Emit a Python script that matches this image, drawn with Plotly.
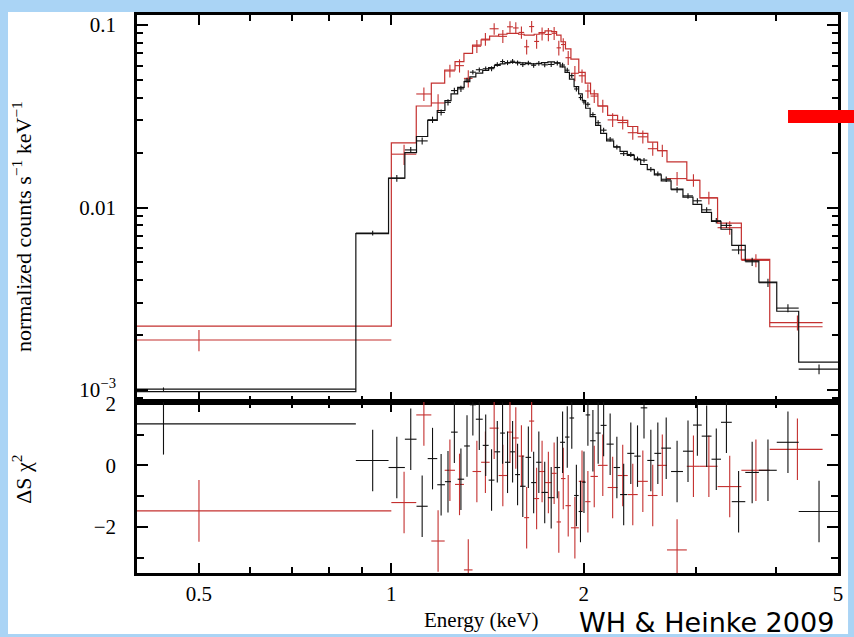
import plotly.graph_objects as go

# ---------------- data (energies in keV) ----------------
BLACK_EDGES = [0.0, 0.88, 0.99, 1.05, 1.095, 1.14, 1.18, 1.213, 1.24, 1.27, 1.30, 1.327,
               1.356, 1.39, 1.42, 1.45, 1.48, 1.506, 1.534, 1.562, 1.59, 1.622, 1.655,
               1.685, 1.718, 1.758, 1.80, 1.837, 1.87, 1.90, 1.932, 1.964, 1.99, 2.014,
               2.047, 2.088, 2.126, 2.172, 2.228, 2.28, 2.34, 2.40, 2.456, 2.515, 2.58,
               2.645, 2.74, 2.86, 2.965, 3.06, 3.17, 3.28, 3.41, 3.58, 3.76, 4.01, 4.34, 5.0]
BLACK_MODEL = [0.00098, 0.0072, 0.0145, 0.0200, 0.0245, 0.0300, 0.0340, 0.0385, 0.0420, 0.0455,
               0.0490, 0.0520, 0.0545, 0.0565, 0.0585, 0.0600, 0.0612, 0.0620, 0.0625, 0.0625,
               0.0620, 0.0615, 0.0612, 0.0615, 0.0622, 0.0628, 0.0620, 0.0590, 0.0550, 0.0505,
               0.0460, 0.0420, 0.0385, 0.0350, 0.0315, 0.0282, 0.0255, 0.0232, 0.0215, 0.0203,
               0.0193, 0.0183, 0.0172, 0.0161, 0.0151, 0.0140, 0.0126, 0.0114, 0.0104, 0.0094,
               0.0084, 0.0076, 0.0062, 0.0051, 0.0039, 0.0027, 0.00142]
BLACK_DATA = [0.00101, 0.00724, 0.01446, 0.02068, 0.02317, 0.03026, 0.03318, 0.0377, 0.04373,
              0.04469, 0.04995, 0.05515, 0.0569, 0.0576, 0.05764, 0.06079, 0.06309, 0.06219,
              0.06334, 0.06193, 0.06071, 0.06197, 0.06019, 0.06168, 0.06053, 0.0608, 0.06187,
              0.06035, 0.05656, 0.05281, 0.04463, 0.04005, 0.03784, 0.0368, 0.0323, 0.02915,
              0.02654, 0.02368, 0.02145, 0.01973, 0.01953, 0.01847, 0.01817, 0.01618, 0.01528,
              0.01428, 0.01251, 0.01158, 0.01088, 0.00971, 0.00846, 0.00798, 0.00585, 0.00504,
              0.00387, 0.00281, 0.0013]
BLACK_ERR = [0.000022, 0.00022, 0.0006, 0.0008, 0.001, 0.0012, 0.0013, 0.0015, 0.0016, 0.0018,
             0.0015, 0.0016, 0.0016, 0.0017, 0.0018, 0.0018, 0.0018, 0.0019, 0.0019, 0.0019,
             0.0019, 0.0018, 0.0018, 0.0018, 0.0019, 0.0019, 0.0019, 0.0018, 0.0017, 0.0015,
             0.0014, 0.0013, 0.0012, 0.0011, 0.0010, 0.0009, 0.0008, 0.0007, 0.00065, 0.0006,
             0.0006, 0.00055, 0.00052, 0.0005, 0.00045, 0.0005, 0.00045, 0.0004, 0.00037,
             0.00033, 0.0003, 0.00027, 0.0003, 0.00026, 0.0002, 0.00014, 0.00008]
BLACK_RESID = [1.35, 0.16, -0.07, 0.85, -1.33, 0.22, -0.63, -0.53, 1.08, -0.45, 0.63, 1.97,
               1.5, 0.65, -0.48, 0.44, 1.05, 0.1, 0.44, -0.3, -0.68, 0.26, -0.56, 0.1, -0.88,
               -1.05, -0.07, 0.75, 0.92, 1.54, -0.98, -1.5, -0.55, 1.64, 0.8, 1.05, 1.3, 0.69,
               -0.07, -0.95, 0.39, 0.3, 1.87, 0.16, 0.39, 0.56, -0.2, 0.46, 1.31, 0.95, 0.2,
               1.4, -1.18, -0.23, -0.16, 0.75, -1.5]

RED_EDGES = [0.0, 1.0, 1.094, 1.155, 1.212, 1.258, 1.299, 1.34, 1.382, 1.425, 1.472, 1.517,
             1.55, 1.582, 1.614, 1.643, 1.673, 1.703, 1.74, 1.782, 1.814, 1.843, 1.873, 1.91,
             1.965, 2.011, 2.05, 2.105, 2.18, 2.26, 2.344, 2.43, 2.52, 2.61, 2.70, 2.90, 3.04,
             3.24, 3.53, 3.91, 4.73]
RED_MODEL = [0.00224, 0.0226, 0.036, 0.048, 0.0567, 0.063, 0.070, 0.0777, 0.083, 0.087, 0.089,
             0.090, 0.090, 0.089, 0.088, 0.088, 0.089, 0.091, 0.093, 0.092, 0.088, 0.081, 0.074,
             0.065, 0.055, 0.048, 0.042, 0.036, 0.032, 0.030, 0.0278, 0.0255, 0.0228, 0.0205,
             0.0178, 0.0141, 0.0113, 0.0082, 0.0052, 0.00222]
RED_DATA = [0.00188, 0.0196, 0.0419, 0.0374, 0.0560, 0.0599, 0.0510, 0.0765, 0.0837, 0.0954,
            0.0867, 0.0978, 0.0964, 0.0911, 0.0760, 0.0981, 0.0813, 0.0895, 0.0888, 0.0901,
            0.0750, 0.0782, 0.0662, 0.0544, 0.0527, 0.0435, 0.0408, 0.0360, 0.0302, 0.0292,
            0.0257, 0.0244, 0.0210, 0.0205, 0.0144, 0.0141, 0.0113, 0.00775, 0.00513, 0.00234]
RED_ERR = [0.00025, 0.0025, 0.0036, 0.0043, 0.0045, 0.005, 0.0056, 0.0062, 0.0066, 0.007,
           0.0071, 0.0072, 0.0072, 0.0071, 0.007, 0.007, 0.0071, 0.0073, 0.0074, 0.0074, 0.007,
           0.0065, 0.0059, 0.0052, 0.0044, 0.0038, 0.0034, 0.0029, 0.0026, 0.0024, 0.0022,
           0.002, 0.0018, 0.0016, 0.00125, 0.0011, 0.0009, 0.00066, 0.00042, 0.00022]
RED_RESID = [-1.48, -1.21, 1.64, -2.46, -0.16, -0.62, -3.4, -0.2, 0.1, 1.21, -0.33, 1.08, 0.89,
             0.3, -1.7, 1.44, -1.08, -0.2, -0.56, -0.26, -1.84, -0.43, -1.31, -2.03, -0.52,
             -1.18, -0.36, 0.0, -0.72, -0.33, -0.95, -0.52, -0.98, 0.0, -2.75, -0.03, -0.03,
             -0.69, -0.16, 0.52]

X_TICKS = [0.5, 1, 2, 5]
X_TICK_TEXT = ["0.5", "1", "2", "5"]
X_MINOR = [0.4, 0.6, 0.7, 0.8, 0.9, 3, 4]
Y_TICKS = [0.001, 0.01, 0.1]
Y_TICK_TEXT = ["10<sup>−3</sup>", "0.01", "0.1"]
Y_MINOR = [0.0009, 0.002, 0.003, 0.004, 0.005, 0.006, 0.007, 0.008, 0.009,
           0.02, 0.03, 0.04, 0.05, 0.06, 0.07, 0.08, 0.09]
R_TICKS = [-2, 0, 2]
R_TICK_TEXT = ["−2", "0", "2"]
R_MINOR = [-3, -1, 1]

XMIN_DISPLAY = 0.3  # bins starting at 0 keV are clipped for the log axis

BLACK = "#111111"
RED = "#c4302f"


def bin_geometry(edges):
    lo = [max(e, XMIN_DISPLAY) for e in edges[:-1]]
    hi = list(edges[1:])
    cen = [(a + b) / 2.0 for a, b in zip(edges[:-1], edges[1:])]
    minus = [c - l for c, l in zip(cen, lo)]
    plus = [h - c for c, h in zip(cen, hi)]
    return lo, hi, cen, minus, plus


fig = go.Figure()


def add_set(edges, model, data, err, resid, color):
    lo, hi, cen, minus, plus = bin_geometry(edges)
    # model as step histogram
    fig.add_trace(go.Scatter(
        x=lo + [hi[-1]], y=list(model) + [model[-1]], mode="lines",
        line=dict(color=color, width=1.2, shape="hv"),
        xaxis="x", yaxis="y", showlegend=False, hoverinfo="skip"))
    # data crosses
    fig.add_trace(go.Scatter(
        x=cen, y=data, mode="markers", marker=dict(size=0.1, color=color),
        error_x=dict(type="data", array=plus, arrayminus=minus, symmetric=False,
                     width=0, thickness=1.1, color=color),
        error_y=dict(type="data", array=err, width=0, thickness=1.1, color=color),
        xaxis="x", yaxis="y", showlegend=False))
    # residual crosses
    fig.add_trace(go.Scatter(
        x=cen, y=resid, mode="markers", marker=dict(size=0.1, color=color),
        error_x=dict(type="data", array=plus, arrayminus=minus, symmetric=False,
                     width=0, thickness=1.1, color=color),
        error_y=dict(type="data", array=[1.0] * len(resid), width=0, thickness=1.1,
                     color=color),
        xaxis="x2", yaxis="y2", showlegend=False))


add_set(RED_EDGES, RED_MODEL, RED_DATA, RED_ERR, RED_RESID, RED)
add_set(BLACK_EDGES, BLACK_MODEL, BLACK_DATA, BLACK_ERR, BLACK_RESID, BLACK)

serif = "Liberation Serif, Times New Roman, serif"
tickfont = dict(family=serif, size=21, color="black")

axis_common = dict(showline=True, linewidth=2.6, linecolor="black", mirror="allticks",
                   ticks="inside", tickwidth=2, tickcolor="black", showgrid=False,
                   zeroline=False, automargin=False)

X_RANGE = [-0.398, 0.699]
split = 171.0 / 558.0

fig.update_layout(
    width=854, height=637,
    margin=dict(l=137, r=16, t=15, b=64, autoexpand=False),
    paper_bgcolor="rgb(170,212,245)",
    plot_bgcolor="white",
    xaxis=dict(type="log", range=X_RANGE, anchor="y", matches="x2",
               tickvals=X_TICKS, showticklabels=False, ticklen=10,
               minor=dict(tickvals=X_MINOR, ticks="inside", ticklen=6, tickwidth=2,
                          tickcolor="black", showgrid=False),
               **axis_common),
    yaxis=dict(type="log", range=[-3.066, -0.945], domain=[split, 1.0], anchor="x",
               tickvals=Y_TICKS, ticktext=Y_TICK_TEXT, tickfont=tickfont, ticklen=11,
               ticklabelstandoff=14,
               minor=dict(tickvals=Y_MINOR, ticks="inside", ticklen=6, tickwidth=2,
                          tickcolor="black", showgrid=False),
               **axis_common),
    xaxis2=dict(type="log", range=X_RANGE, anchor="y2",
                tickvals=X_TICKS, ticktext=X_TICK_TEXT, tickfont=tickfont, ticklen=10,
                ticklabelstandoff=0,
                minor=dict(tickvals=X_MINOR, ticks="inside", ticklen=6, tickwidth=2,
                           tickcolor="black", showgrid=False),
                **axis_common),
    yaxis2=dict(range=[-3.5, 2.06], domain=[0.0, split], anchor="x2",
                tickvals=R_TICKS, ticktext=R_TICK_TEXT, tickfont=tickfont, ticklen=11,
                ticklabelstandoff=14,
                minor=dict(tickvals=R_MINOR, ticks="inside", ticklen=7, tickwidth=2,
                           tickcolor="black", showgrid=False),
                **axis_common),
    shapes=[
        dict(type="rect", xref="paper", yref="paper", x0=-0.184, x1=1.0143,
             y0=-0.1093, y1=1.0054, fillcolor="white", line=dict(width=0), layer="below"),
        dict(type="rect", xref="paper", yref="paper", x0=0.9287, x1=1.03,
             y0=0.8065, y1=0.8297, fillcolor="#ff0000", line=dict(width=0), layer="above"),
    ],
    annotations=[
        dict(text="normalized counts s<sup>−1</sup> keV<sup>−1</sup>", xref="paper",
             yref="paper", x=-0.164, y=0.62, xanchor="center", yanchor="middle",
             textangle=-90, showarrow=False,
             font=dict(family=serif, size=22, color="black")),
        dict(text="ΔS χ<sup>2</sup>", xref="paper", yref="paper", x=-0.164, y=0.167,
             xanchor="center", yanchor="middle", textangle=-90, showarrow=False,
             font=dict(family=serif, size=22, color="black")),
        dict(text="Energy (keV)", xref="paper", yref="paper", x=0.491, y=-0.084,
             xanchor="center", yanchor="middle",
             showarrow=False, font=dict(family=serif, size=21, color="black")),
        dict(text="WH &amp; Heinke 2009", xref="paper", yref="paper", x=0.813, y=-0.0895,
             xanchor="center", yanchor="middle",
             showarrow=False, font=dict(family="DejaVu Sans, sans-serif", size=27,
                                        color="black")),
    ],
)

fig.write_html("out.html")
